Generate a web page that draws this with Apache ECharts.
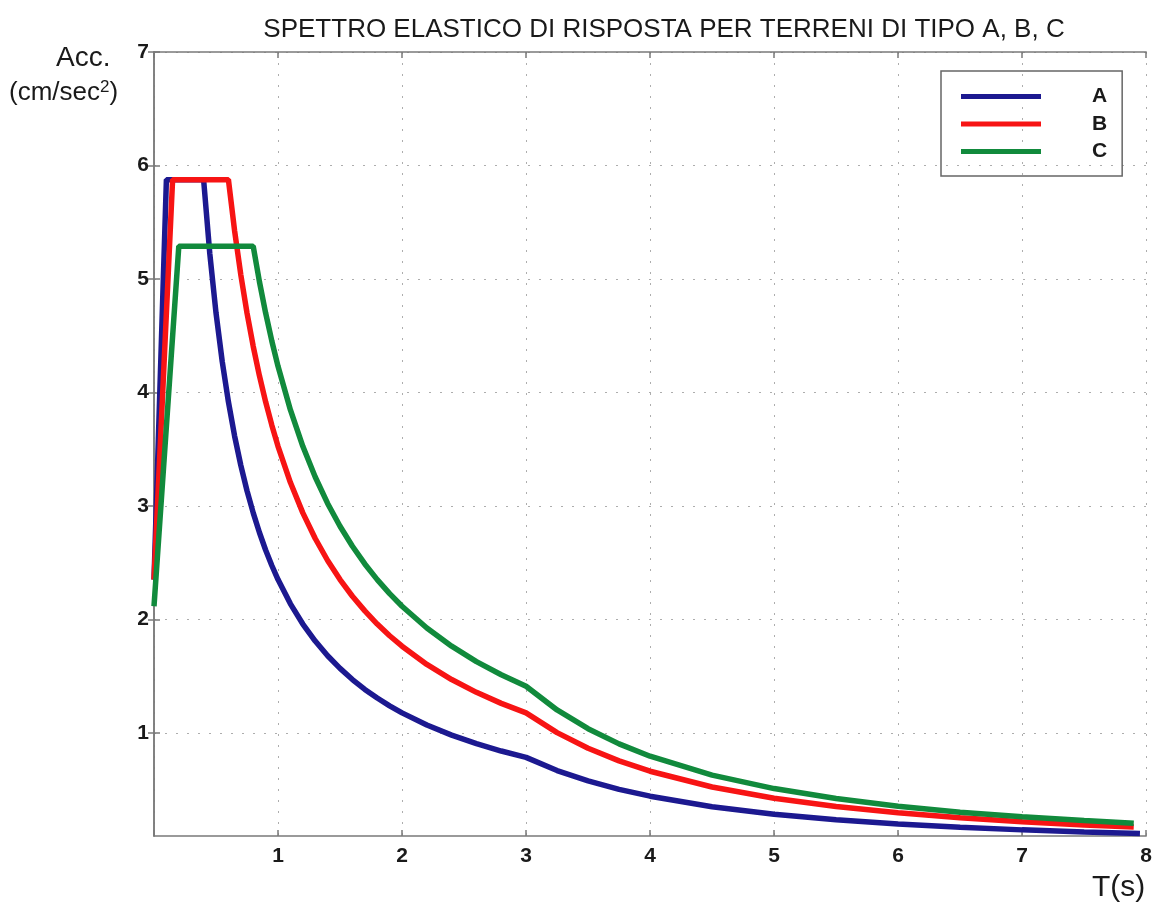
<!DOCTYPE html>
<html>
<head>
<meta charset="utf-8">
<script src="https://cdn.jsdelivr.net/npm/echarts@6/dist/echarts.min.js"></script>
<style>
  html, body { margin: 0; padding: 0; background: #fff; }
  #chart { width: 1155px; height: 909px; }
</style>
</head>
<body>
<div id="chart"></div>
<script>
// periodi T (s) e accelerazioni
const tA = [0, 0.1, 0.4, 0.45, 0.5, 0.55, 0.6, 0.65, 0.7, 0.75, 0.8, 0.85, 0.9, 0.95, 1.0,
  1.1, 1.2, 1.3, 1.4, 1.5, 1.6, 1.7, 1.8, 1.9, 2.0, 2.2, 2.4, 2.6, 2.8, 3.0,
  3.25, 3.5, 3.75, 4.0, 4.5, 5.0, 5.5, 6.0, 6.5, 7.0, 7.5, 7.95]
const accA = [2.35, 5.875, 5.875, 5.222, 4.7, 4.273, 3.917, 3.615, 3.357, 3.133, 2.938, 2.765, 2.611, 2.474, 2.35,
  2.136, 1.958, 1.808, 1.679, 1.567, 1.469, 1.382, 1.306, 1.237, 1.175, 1.068, 0.979, 0.904, 0.839, 0.783,
  0.667, 0.576, 0.501, 0.441, 0.348, 0.282, 0.233, 0.196, 0.167, 0.144, 0.125, 0.112]

const tB = [0, 0.15, 0.6, 0.65, 0.7, 0.75, 0.8, 0.85, 0.9, 0.95, 1.0,
  1.1, 1.2, 1.3, 1.4, 1.5, 1.6, 1.7, 1.8, 1.9, 2.0, 2.2, 2.4, 2.6, 2.8, 3.0,
  3.25, 3.5, 3.75, 4.0, 4.5, 5.0, 5.5, 6.0, 6.5, 7.0, 7.5, 7.9]
const accB = [2.35, 5.875, 5.875, 5.423, 5.036, 4.7, 4.406, 4.147, 3.917, 3.711, 3.525,
  3.205, 2.938, 2.712, 2.518, 2.35, 2.203, 2.074, 1.958, 1.855, 1.763, 1.602, 1.469, 1.356, 1.259, 1.175,
  1.001, 0.863, 0.752, 0.661, 0.522, 0.423, 0.35, 0.294, 0.25, 0.216, 0.188, 0.169]

const tC = [0, 0.2, 0.8, 0.85, 0.9, 0.95, 1.0,
  1.1, 1.2, 1.3, 1.4, 1.5, 1.6, 1.7, 1.8, 1.9, 2.0, 2.2, 2.4, 2.6, 2.8, 3.0,
  3.25, 3.5, 3.75, 4.0, 4.5, 5.0, 5.5, 6.0, 6.5, 7.0, 7.5, 7.9]
const accC = [2.115, 5.288, 5.288, 4.976, 4.7, 4.453, 4.23,
  3.845, 3.525, 3.254, 3.021, 2.82, 2.644, 2.488, 2.35, 2.226, 2.115, 1.923, 1.763, 1.627, 1.511, 1.41,
  1.201, 1.036, 0.902, 0.793, 0.627, 0.508, 0.42, 0.353, 0.3, 0.259, 0.226, 0.203]

const seriesNames = ['A', 'B', 'C']
const colors = ['#1c1990', '#f71414', '#118a3c']
const yTicks = [1, 2, 3, 4, 5, 6, 7]

const zip = (t, a) => t.map((v, i) => [v, a[i]])

const chart = echarts.init(document.getElementById('chart'))

const axisLineStyle = { color: '#7a7a7a', width: 1.5 }
const gridLine = { show: true, lineStyle: { color: '#adadad', type: [2, 9], width: 1 } }
const tickFont = { color: '#1a1a1a', fontFamily: 'Liberation Sans', fontSize: 21, fontWeight: 'bold' }

const option = {
  animation: false,
  color: colors,
  title: {
    text: 'SPETTRO ELASTICO DI RISPOSTA PER TERRENI DI TIPO A, B, C',
    left: 659, top: 12, textAlign: 'center',
    textStyle: { fontFamily: 'Liberation Sans', fontSize: 26, fontWeight: 'normal', color: '#1a1a1a' }
  },
  grid: { left: 154, right: 7, top: 52, bottom: 73 },
  legend: {
    data: seriesNames,
    orient: 'vertical',
    left: 941, top: 71,
    icon: 'rect',
    itemWidth: 80, itemHeight: 5,
    itemGap: 6.5,
    padding: [15, 15, 14, 20],
    borderColor: '#666', borderWidth: 1.5,
    textStyle: { fontFamily: 'Liberation Sans', fontSize: 21, fontWeight: 'bold', color: '#1a1a1a', padding: [0, 0, 0, 46] }
  },
  xAxis: [{
    type: 'value', min: 0, max: 8, interval: 1,
    axisLine: { lineStyle: axisLineStyle },
    axisTick: { inside: true, length: 6, lineStyle: axisLineStyle },
    axisLabel: Object.assign({ margin: 10, formatter: v => (v === 0 ? '' : v) }, tickFont),
    splitLine: gridLine
  }, {
    type: 'value', min: 0, max: 8, interval: 1, position: 'top',
    axisLine: { lineStyle: axisLineStyle },
    axisTick: { inside: true, length: 6, lineStyle: axisLineStyle },
    axisLabel: { show: false },
    splitLine: { show: false }
  }],
  yAxis: [{
    type: 'value', min: 0.09, max: 7,
    axisLine: { show: true, lineStyle: axisLineStyle },
    axisTick: { show: true, inside: true, length: 6, lineStyle: axisLineStyle, customValues: yTicks },
    axisLabel: Object.assign({ margin: 5, customValues: yTicks }, tickFont),
    splitLine: Object.assign({ customValues: yTicks }, gridLine)
  }, {
    type: 'value', min: 0.09, max: 7, position: 'right',
    axisLine: { show: true, lineStyle: axisLineStyle },
    axisTick: { show: true, inside: true, length: 6, lineStyle: axisLineStyle, customValues: yTicks },
    axisLabel: { show: false },
    splitLine: { show: false }
  }],
  series: [
    { name: 'A', type: 'line', data: zip(tA, accA) },
    { name: 'B', type: 'line', data: zip(tB, accB) },
    { name: 'C', type: 'line', data: zip(tC, accC) }
  ].map(s => Object.assign(s, {
    showSymbol: false, symbol: 'none',
    lineStyle: { width: 5.5 }
  })),
  graphic: [
    { type: 'text', left: 56, top: 44,
      style: { text: 'Acc.', font: '28px "Liberation Sans"', fill: '#1a1a1a' } },
    { type: 'text', left: 9, top: 79,
      style: {
        text: '{m|(cm/sec}{s|2}{m|)}',
        rich: {
          m: { fontFamily: 'Liberation Sans', fontSize: 26, fill: '#1a1a1a', verticalAlign: 'bottom' },
          s: { fontFamily: 'Liberation Sans', fontSize: 17, fill: '#1a1a1a', verticalAlign: 'top', padding: [0, 0, 10, 0] }
        }
      } },
    { type: 'text', left: 1092, top: 873,
      style: { text: 'T(s)', font: '30px "Liberation Sans"', fill: '#1a1a1a' } }
  ]
}

chart.setOption(option)
</script>
</body>
</html>
